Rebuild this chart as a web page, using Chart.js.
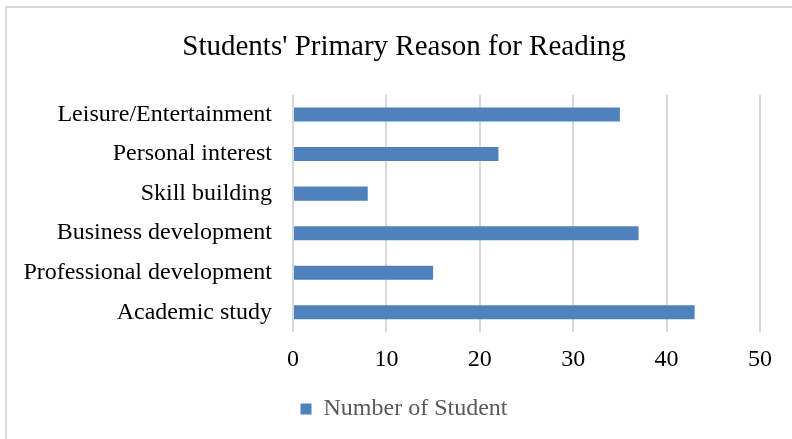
<!DOCTYPE html>
<html>
<head>
<meta charset="utf-8">
<script src="https://cdn.jsdelivr.net/npm/chart.js@4/dist/chart.umd.min.js"></script>
<style>
  html, body { margin: 0; padding: 0; background: #fff; }
  #wrap { width: 792px; height: 439px; position: relative; }
</style>
</head>
<body>
<div id="wrap"><canvas id="c" width="792" height="439"></canvas></div>
<script>
const categories = ["Leisure/Entertainment", "Personal interest", "Skill building", "Business development", "Professional development", "Academic study"];
const studentCounts = [35, 22, 8, 37, 15, 43];
const seriesName = "Number of Student";
const chartTitle = "Students' Primary Reason for Reading";
const xMin = 0, xMax = 50, xStep = 10;

const frame = {
  id: 'frame',
  beforeDraw(chart) {
    const ctx = chart.ctx;
    ctx.save();
    ctx.fillStyle = '#ffffff';
    ctx.fillRect(0, 0, chart.width, chart.height);
    ctx.strokeStyle = '#d9d9d9';
    ctx.lineWidth = 2;
    ctx.strokeRect(6, 7, chart.width + 10, chart.height + 10);
    ctx.restore();
  }
};

const FONT = "'Liberation Serif', 'Times New Roman', serif";

new Chart(document.getElementById('c'), {
  type: 'bar',
  data: {
    labels: categories,
    datasets: [{
      label: seriesName,
      data: studentCounts,
      backgroundColor: '#4f81bd',
      borderWidth: 0,
      categoryPercentage: 1,
      barPercentage: 0.355
    }]
  },
  options: {
    indexAxis: 'y',
    responsive: false,
    animation: false,
    devicePixelRatio: 1,
    layout: { padding: { left: 16, right: 0, top: 0, bottom: 8 } },
    scales: {
      x: {
        min: xMin, max: xMax,
        afterFit(scale) { scale.height = 55; },
        ticks: { stepSize: xStep, color: '#000', font: { family: FONT, size: 24 }, padding: 13 },
        grid: { color: '#d9d9d9', lineWidth: 2, drawTicks: false },
        border: { display: false }
      },
      y: {
        afterFit(scale) { scale.width = 277; },
        ticks: { color: '#000', font: { family: FONT, size: 24 }, padding: 21 },
        grid: { display: false, drawTicks: false },
        border: { display: false }
      },
      yRight: {
        position: 'right',
        type: 'linear',
        display: true,
        afterFit(scale) { scale.width = 32; },
        ticks: { display: false },
        grid: { display: false, drawTicks: false },
        border: { display: false }
      }
    },
    plugins: {
      title: {
        display: true,
        text: chartTitle,
        color: '#000',
        font: { family: FONT, size: 29, weight: 'normal' },
        padding: { top: 30, bottom: 30 }
      },
      legend: {
        position: 'bottom',
        labels: {
          boxWidth: 11, boxHeight: 11,
          color: '#595959',
          font: { family: FONT, size: 24 },
          padding: 10
        }
      },
      tooltip: { enabled: false }
    }
  },
  plugins: [frame]
});
</script>
</body>
</html>
